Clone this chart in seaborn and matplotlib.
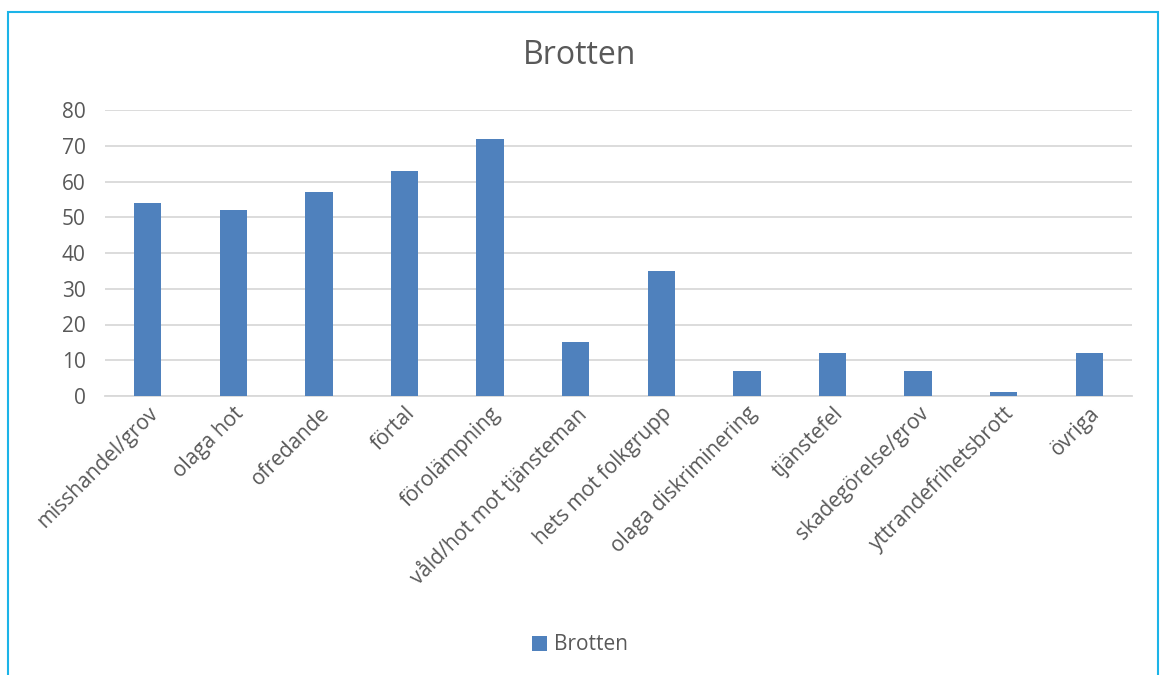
import matplotlib
matplotlib.use("Agg")
import matplotlib.pyplot as plt
import seaborn as sns
import pandas as pd
from matplotlib.patches import Rectangle

categories = ["misshandel/grov", "olaga hot", "ofredande", "förtal", "förolämpning",
              "våld/hot mot tjänsteman", "hets mot folkgrupp", "olaga diskriminering",
              "tjänstefel", "skadegörelse/grov", "yttrandefrihetsbrott", "övriga"]
values = [54, 52, 57, 63, 72, 15, 35, 7, 12, 7, 1, 12]
series_name = "Brotten"
y_ticks = [0, 10, 20, 30, 40, 50, 60, 70, 80]

sns.set_theme(style="white")
plt.rcParams['font.family'] = ['Open Sans', 'DejaVu Sans']

text_color = "#595959"
bar_color = "#4F81BD"

df = pd.DataFrame({"cat": categories, "val": values})

fig = plt.figure(figsize=(11.6, 6.75), dpi=100)
ax = fig.add_axes([105/1160, 1 - 396/675, (1132-105)/1160, (396-110)/675])

sns.barplot(data=df, x="cat", y="val", color=bar_color, width=0.32, ax=ax,
            saturation=1, label=series_name, zorder=3, linewidth=0, edgecolor="none")

ax.set_ylim(0, 80)
ax.set_yticks(y_ticks)
ax.set_xlim(-0.5, len(categories) - 0.5)
ax.yaxis.grid(True, color="#D9D9D9", linewidth=1.3, zorder=0)
for s in ["top", "right", "left"]:
    ax.spines[s].set_visible(False)
ax.spines["bottom"].set_color("#D9D9D9")
ax.spines["bottom"].set_linewidth(1.3)
ax.tick_params(axis="y", length=0, labelsize=15, labelcolor=text_color, pad=14)
ax.tick_params(axis="x", length=0, labelsize=15, labelcolor=text_color, pad=5)
ax.set_xticks(range(len(categories)))
ax.set_xticklabels(categories, rotation=45, ha="right", rotation_mode="anchor")
ax.set_xlabel("")
ax.set_ylabel("")

fig.text(0.5, 1 - 55/675, "Brotten", ha="center", va="center", fontsize=23, color=text_color)

leg = ax.legend(loc="center", bbox_to_anchor=(0.5, 1 - 645/675), bbox_transform=fig.transFigure,
                frameon=False, fontsize=15, handlelength=0.75, handleheight=0.75, handletextpad=0.35)
for t in leg.get_texts():
    t.set_color(text_color)

# chart border
fig.add_artist(Rectangle((8/1160, -0.05), (1158-8)/1160, 1 - 12/675 + 0.05,
                         transform=fig.transFigure, fill=False, edgecolor="#1CB4E8",
                         linewidth=1.5))

fig.savefig("out.png", dpi=100)
